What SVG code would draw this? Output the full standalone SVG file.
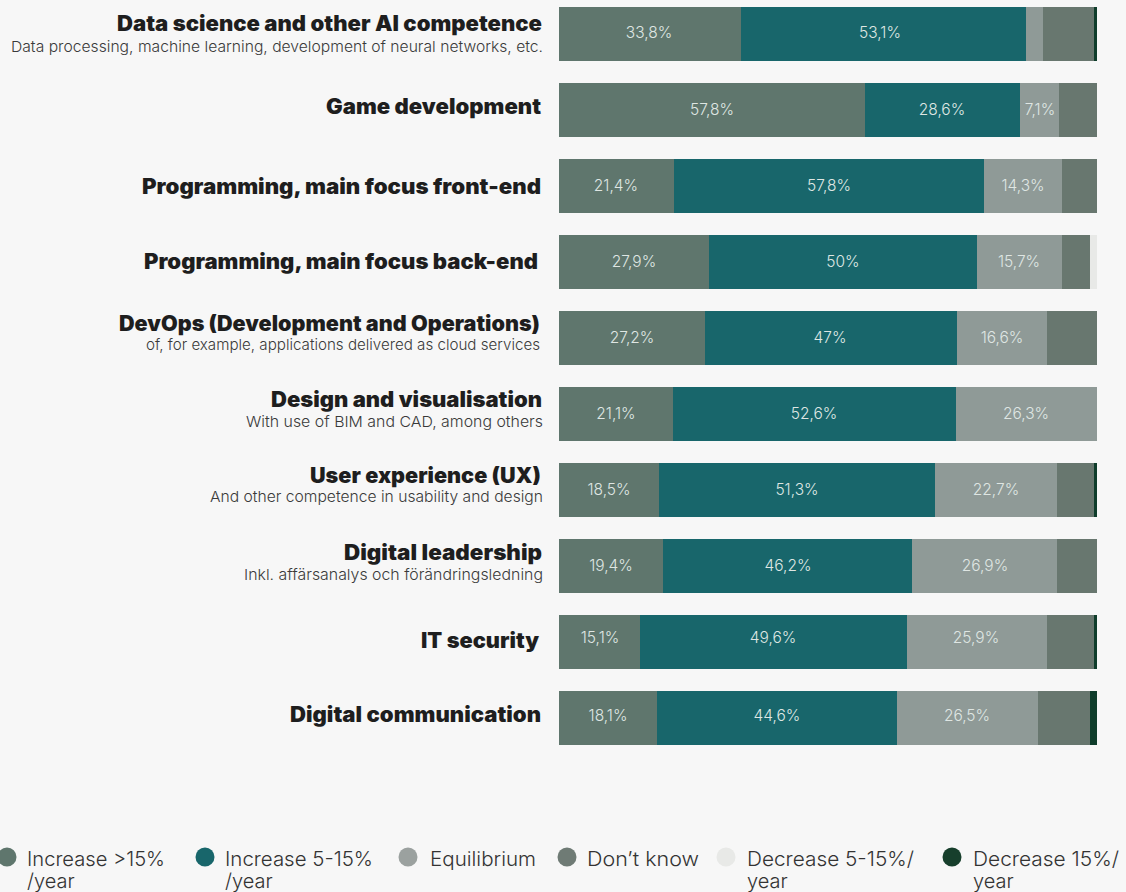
<svg xmlns="http://www.w3.org/2000/svg" width="1126" height="892" viewBox="0 0 1126 892">
<style>
.t{font-family:Inter,"Noto Sans","Liberation Sans",sans-serif;font-weight:900;font-size:21px;fill:#1e1e1e;text-anchor:end}
.s{font-family:Inter,"Noto Sans","Liberation Sans",sans-serif;font-weight:300;font-size:15px;fill:#3a3a3a;text-anchor:end}
.v{font-family:Inter,"Noto Sans","Liberation Sans",sans-serif;font-weight:300;font-size:15.5px;fill:#dfe6e3;text-anchor:middle}
.l{font-family:Inter,"Noto Sans","Liberation Sans",sans-serif;font-weight:300;font-size:20px;fill:#333}
.a{fill:#5f766d}.b{fill:#18666b}.c{fill:#8f9a97}.d{fill:#68776f}.e{fill:#e8e9e7}.f{fill:#0f3d2b}
</style>
<rect width="1126" height="892" fill="#f7f7f7"/>
<g id="row1">
<text class="t" x="542" y="31" textLength="425" lengthAdjust="spacingAndGlyphs">Data science and other AI competence</text>
<text class="s" x="543" y="52" textLength="532" lengthAdjust="spacingAndGlyphs">Data processing, machine learning, development of neural networks, etc.</text>
<rect class="a" x="559" y="7" width="182" height="54"/><rect class="b" x="741" y="7" width="285" height="54"/><rect class="c" x="1026" y="7" width="17" height="54"/><rect class="d" x="1043" y="7" width="51" height="54"/><rect class="f" x="1094" y="7" width="3" height="54"/>
<text class="v" x="649" y="38">33,8%</text><text class="v" x="880" y="38">53,1%</text>
</g>
<g id="row2">
<text class="t" x="541" y="114" textLength="215" lengthAdjust="spacingAndGlyphs">Game development</text>
<rect class="a" x="559" y="83" width="306" height="54"/><rect class="b" x="865" y="83" width="155" height="54"/><rect class="c" x="1020" y="83" width="39" height="54"/><rect class="d" x="1059" y="83" width="38" height="54"/>
<text class="v" x="712" y="115">57,8%</text><text class="v" x="942" y="115">28,6%</text><text class="v" x="1040" y="115">7,1%</text>
</g>
<g id="row3">
<text class="t" x="541" y="194" textLength="399" lengthAdjust="spacingAndGlyphs">Programming, main focus front-end</text>
<rect class="a" x="559" y="159" width="115" height="54"/><rect class="b" x="674" y="159" width="310" height="54"/><rect class="c" x="984" y="159" width="78" height="54"/><rect class="d" x="1062" y="159" width="35" height="54"/>
<text class="v" x="616" y="191">21,4%</text><text class="v" x="829" y="191">57,8%</text><text class="v" x="1023" y="191">14,3%</text>
</g>
<g id="row4">
<text class="t" x="538" y="269" textLength="394" lengthAdjust="spacingAndGlyphs">Programming, main focus back-end</text>
<rect class="a" x="559" y="235" width="150" height="54"/><rect class="b" x="709" y="235" width="268" height="54"/><rect class="c" x="977" y="235" width="85" height="54"/><rect class="d" x="1062" y="235" width="28" height="54"/><rect class="e" x="1090" y="235" width="7" height="54"/>
<text class="v" x="634" y="267">27,9%</text><text class="v" x="843" y="267">50%</text><text class="v" x="1019" y="267">15,7%</text>
</g>
<g id="row5">
<text class="t" x="540" y="331" textLength="421" lengthAdjust="spacingAndGlyphs">DevOps (Development and Operations)</text>
<text class="s" x="540" y="350" textLength="394" lengthAdjust="spacingAndGlyphs">of, for example, applications delivered as cloud services</text>
<rect class="a" x="559" y="311" width="146" height="54"/><rect class="b" x="705" y="311" width="252" height="54"/><rect class="c" x="957" y="311" width="90" height="54"/><rect class="d" x="1047" y="311" width="50" height="54"/>
<text class="v" x="632" y="343">27,2%</text><text class="v" x="830" y="343">47%</text><text class="v" x="1002" y="343">16,6%</text>
</g>
<g id="row6">
<text class="t" x="542" y="407" textLength="271" lengthAdjust="spacingAndGlyphs">Design and visualisation</text>
<text class="s" x="543" y="427" textLength="297" lengthAdjust="spacingAndGlyphs">With use of BIM and CAD, among others</text>
<rect class="a" x="559" y="387" width="114" height="54"/><rect class="b" x="673" y="387" width="283" height="54"/><rect class="c" x="956" y="387" width="141" height="54"/>
<text class="v" x="616" y="419">21,1%</text><text class="v" x="814" y="419">52,6%</text><text class="v" x="1026" y="419">26,3%</text>
</g>
<g id="row7">
<text class="t" x="541" y="483" textLength="231" lengthAdjust="spacingAndGlyphs">User experience (UX)</text>
<text class="s" x="543" y="502" textLength="333" lengthAdjust="spacingAndGlyphs">And other competence in usability and design</text>
<rect class="a" x="559" y="463" width="100" height="54"/><rect class="b" x="659" y="463" width="276" height="54"/><rect class="c" x="935" y="463" width="122" height="54"/><rect class="d" x="1057" y="463" width="37" height="54"/><rect class="f" x="1094" y="463" width="3" height="54"/>
<text class="v" x="609" y="495">18,5%</text><text class="v" x="797" y="495">51,3%</text><text class="v" x="996" y="495">22,7%</text>
</g>
<g id="row8">
<text class="t" x="542" y="560" textLength="198" lengthAdjust="spacingAndGlyphs">Digital leadership</text>
<text class="s" x="543" y="580" textLength="299" lengthAdjust="spacingAndGlyphs">Inkl. affärsanalys och förändringsledning</text>
<rect class="a" x="559" y="539" width="104" height="54"/><rect class="b" x="663" y="539" width="249" height="54"/><rect class="c" x="912" y="539" width="145" height="54"/><rect class="d" x="1057" y="539" width="40" height="54"/>
<text class="v" x="611" y="571">19,4%</text><text class="v" x="788" y="571">46,2%</text><text class="v" x="985" y="571">26,9%</text>
</g>
<g id="row9">
<text class="t" x="539" y="648" textLength="118" lengthAdjust="spacingAndGlyphs">IT security</text>
<rect class="a" x="559" y="615" width="81" height="54"/><rect class="b" x="640" y="615" width="267" height="54"/><rect class="c" x="907" y="615" width="140" height="54"/><rect class="d" x="1047" y="615" width="47" height="54"/><rect class="f" x="1094" y="615" width="3" height="54"/>
<text class="v" x="600" y="643">15,1%</text><text class="v" x="773" y="643">49,6%</text><text class="v" x="976" y="643">25,9%</text>
</g>
<g id="row10">
<text class="t" x="541" y="722" textLength="251" lengthAdjust="spacingAndGlyphs">Digital communication</text>
<rect class="a" x="559" y="691" width="98" height="54"/><rect class="b" x="657" y="691" width="240" height="54"/><rect class="c" x="897" y="691" width="141" height="54"/><rect class="d" x="1038" y="691" width="52" height="54"/><rect class="f" x="1090" y="691" width="7" height="54"/>
<text class="v" x="608" y="721">18,1%</text><text class="v" x="777" y="721">44,6%</text><text class="v" x="967" y="721">26,5%</text>
</g>
<g id="legend">
<circle class="a" cx="7" cy="857" r="9.5"/><text class="l" x="27" y="866" textLength="138" lengthAdjust="spacingAndGlyphs">Increase &gt;15%</text><text class="l" x="27" y="888">/year</text>
<circle class="b" cx="205" cy="857" r="9.5"/><text class="l" x="225" y="866" textLength="148" lengthAdjust="spacingAndGlyphs">Increase 5-15%</text><text class="l" x="225" y="888">/year</text>
<circle fill="#9ba19f" cx="408" cy="857" r="9.5"/><text class="l" x="430" y="866" textLength="106" lengthAdjust="spacingAndGlyphs">Equilibrium</text>
<circle fill="#6f7b75" cx="567" cy="857" r="9.5"/><text class="l" x="587" y="866" textLength="112" lengthAdjust="spacingAndGlyphs">Don’t know</text>
<circle class="e" cx="726" cy="857" r="9.5"/><text class="l" x="747" y="866" textLength="167" lengthAdjust="spacingAndGlyphs">Decrease 5-15%/</text><text class="l" x="747" y="888">year</text>
<circle fill="#173f2c" cx="952" cy="857" r="9.5"/><text class="l" x="973" y="866" textLength="146" lengthAdjust="spacingAndGlyphs">Decrease 15%/</text><text class="l" x="973" y="888">year</text>
</g>
</svg>
